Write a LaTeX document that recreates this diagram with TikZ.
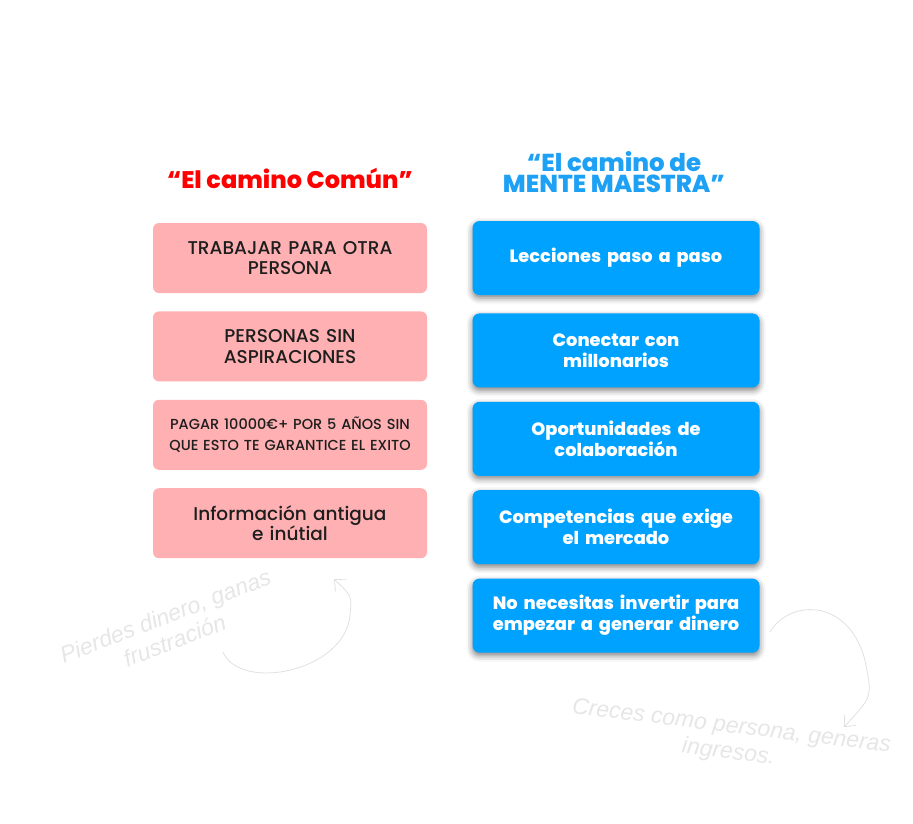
\documentclass[tikz,border=0pt]{standalone}
\usepackage{fontspec}
\setmainfont{Poppins}
\newfontfamily\mediumfont{Poppins Medium}
\newfontfamily\heavyfont{Poppins ExtraBold}
\newfontfamily\handfont{Liberation Sans}
\usetikzlibrary{positioning,shadows.blur,arrows.meta}
\definecolor{pinkbox}{HTML}{FFB0B2}
\definecolor{bluebox}{HTML}{00A2FF}
\definecolor{bluetitle}{HTML}{1EA0F4}
\definecolor{redtitle}{HTML}{FF0000}
\definecolor{darktext}{HTML}{1E1E1E}
\definecolor{faint}{HTML}{E0E0E0}
\definecolor{fainttext}{HTML}{E6E6E6}
\begin{document}
\begin{tikzpicture}[x=1pt,y=-1pt]
\tikzset{commonbox/.style={fill=pinkbox,rounded corners=6pt,minimum width=274pt,minimum height=70pt,text width=260pt,inner sep=0pt,align=center,text=darktext,font=\mediumfont\fontsize{18.5}{20.5}\selectfont}}
\tikzset{masterbox/.style={fill=bluebox,rounded corners=7pt,minimum width=287pt,minimum height=74pt,text width=282pt,inner sep=0pt,align=center,text=white,font=\heavyfont\fontsize{17.8}{21}\selectfont,blur shadow={shadow xshift=0pt,shadow yshift=-3pt,shadow blur radius=6pt,shadow opacity=50}}}
\tikzset{handnote/.style={text=fainttext,align=center,font=\handfont\itshape\fontsize{23}{26}\selectfont}}
\tikzset{notearrow/.style={draw=faint,line width=0.8pt,-{Straight Barb[length=9pt,width=16pt]}}}
\useasboundingbox (0,0) rectangle (913,823);
\node[anchor=base,text=redtitle,font=\heavyfont\fontsize{24}{24}\selectfont] (commontitle) at (290,188) {“El camino Común”};
\node[anchor=base,text=bluetitle,align=center,font=\heavyfont\fontsize{24.5}{20.5}\selectfont] (mastertitle) at (614,192) {“El camino de\\MENTE MAESTRA”};
\node[commonbox] (c1) at (290,258) {TRABAJAR PARA OTRA\\PERSONA};
\node[commonbox,below=18pt of c1] (c2) {PERSONAS SIN\\ASPIRACIONES};
\node[commonbox,below=18pt of c2,font=\mediumfont\fontsize{14.5}{21}\selectfont] (c3) {PAGAR 10000€+ POR 5 AÑOS SIN\\QUE ESTO TE GARANTICE EL EXITO};
\node[commonbox,below=18pt of c3] (c4) {Información antigua\\e inútial};
\node[masterbox] (m1) at (616,258) {Lecciones paso a paso};
\node[masterbox,below=18pt of m1] (m2) {Conectar con\\millonarios};
\node[masterbox,below=14pt of m2] (m3) {Oportunidades de\\colaboración};
\node[masterbox,below=14pt of m3] (m4) {Competencias que exige\\el mercado};
\node[masterbox,below=14pt of m4] (m5) {No necesitas invertir para\\empezar a generar dinero};
\node[handnote,rotate=21] (losenote) at (170,628) {Pierdes dinero, ganas\\frustración};
\node[handnote,rotate=-7] (winnote) at (730,740) {Creces como persona, generas\\ingresos.};
\coordinate (losestart) at (223,652);
\coordinate (loseend) at (334,579);
\coordinate (winstart) at (770,632);
\coordinate (winend) at (844,727);
\draw[notearrow] (losestart) .. controls (240,692) and (345,672) .. (350,615) .. controls (352,596) .. (loseend);
\draw[notearrow] (winstart) .. controls (790,598) and (852,598) .. (866,665) .. controls (872,697) .. (winend);
\end{tikzpicture}
\end{document}
